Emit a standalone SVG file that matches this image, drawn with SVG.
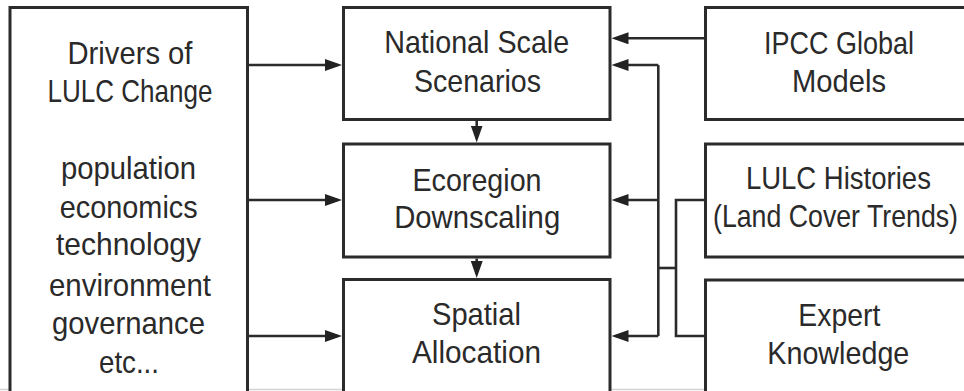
<svg xmlns="http://www.w3.org/2000/svg" width="964" height="391" viewBox="0 0 964 391">
<defs>
<style>
.box{fill:#fff;stroke:#2b2b2b;stroke-width:3}
.t{font-family:"Liberation Sans",Arial,sans-serif;font-size:30.5px;fill:#2a2a2a;text-anchor:middle}
.c{fill:none;stroke:#2b2b2b;stroke-width:2.6}
</style>
<marker id="ah" markerUnits="userSpaceOnUse" markerWidth="18" markerHeight="12" refX="13" refY="6" orient="auto">
<path d="M0,0 L17,6 L0,12 z" fill="#222"/>
</marker>
</defs>
<rect width="964" height="391" fill="#fff"/>
<line x1="0" y1="389.5" x2="964" y2="389.5" stroke="#d4d4d4" stroke-width="1.5"/>

<g id="drivers">
<rect class="box" x="10" y="7.5" width="237.5" height="400"/>
<text class="t" x="130" y="64" textLength="125" lengthAdjust="spacingAndGlyphs">Drivers of</text>
<text class="t" x="130" y="102" textLength="165" lengthAdjust="spacingAndGlyphs">LULC Change</text>
<text class="t" x="128.5" y="179.3" textLength="135" lengthAdjust="spacingAndGlyphs">population</text>
<text class="t" x="128.7" y="217.5" textLength="138" lengthAdjust="spacingAndGlyphs">economics</text>
<text class="t" x="128.5" y="255" textLength="145" lengthAdjust="spacingAndGlyphs">technology</text>
<text class="t" x="130" y="295.5" textLength="162" lengthAdjust="spacingAndGlyphs">environment</text>
<text class="t" x="128.5" y="334" textLength="153" lengthAdjust="spacingAndGlyphs">governance</text>
<text class="t" x="129" y="373" textLength="60" lengthAdjust="spacingAndGlyphs">etc...</text>
</g>

<g id="national">
<rect class="box" x="343.5" y="7.5" width="266.5" height="112"/>
<text class="t" x="476.7" y="53.3" textLength="185" lengthAdjust="spacingAndGlyphs">National Scale</text>
<text class="t" x="477.5" y="91.5" textLength="127" lengthAdjust="spacingAndGlyphs">Scenarios</text>
</g>

<g id="ecoregion">
<rect class="box" x="343.5" y="144" width="266.5" height="113"/>
<text class="t" x="477" y="190.7" textLength="129" lengthAdjust="spacingAndGlyphs">Ecoregion</text>
<text class="t" x="477.2" y="228.3" textLength="166" lengthAdjust="spacingAndGlyphs">Downscaling</text>
</g>

<g id="spatial">
<rect class="box" x="343.5" y="279.5" width="266.5" height="130"/>
<text class="t" x="476.5" y="325" textLength="89" lengthAdjust="spacingAndGlyphs">Spatial</text>
<text class="t" x="476.5" y="363.3" textLength="129" lengthAdjust="spacingAndGlyphs">Allocation</text>
</g>

<g id="ipcc">
<rect class="box" x="705.5" y="7.5" width="275" height="112"/>
<text class="t" x="839" y="53.5" textLength="150" lengthAdjust="spacingAndGlyphs">IPCC Global</text>
<text class="t" x="839" y="91.7" textLength="94" lengthAdjust="spacingAndGlyphs">Models</text>
</g>

<g id="histories">
<rect class="box" x="705.5" y="144" width="275" height="113"/>
<text class="t" x="838.4" y="188.5" textLength="185" lengthAdjust="spacingAndGlyphs">LULC Histories</text>
<text class="t" x="835.5" y="226.7" textLength="245" lengthAdjust="spacingAndGlyphs">(Land Cover Trends)</text>
</g>

<g id="expert">
<rect class="box" x="705.5" y="280" width="275" height="130"/>
<text class="t" x="839.3" y="326" textLength="82" lengthAdjust="spacingAndGlyphs">Expert</text>
<text class="t" x="838.3" y="364" textLength="142" lengthAdjust="spacingAndGlyphs">Knowledge</text>
</g>

<g id="connectors">
<path class="c" d="M249,65 H338" marker-end="url(#ah)"/>
<path class="c" d="M249,200 H338" marker-end="url(#ah)"/>
<path class="c" d="M249,336 H338" marker-end="url(#ah)"/>
<path class="c" d="M476.7,121 V138.5" marker-end="url(#ah)"/>
<path class="c" d="M476.7,258.5 V274" marker-end="url(#ah)"/>
<path class="c" d="M704,38.3 H615.5" marker-end="url(#ah)"/>
<path class="c" d="M658.3,65 V336"/>
<path class="c" d="M658.3,65 H615.5" marker-end="url(#ah)"/>
<path class="c" d="M658.3,200 H615.5" marker-end="url(#ah)"/>
<path class="c" d="M658.3,336 H615.5" marker-end="url(#ah)"/>
<path class="c" d="M704,200 H676 V336 H704"/>
<path class="c" d="M658.3,268 H676"/>
</g>
</svg>
